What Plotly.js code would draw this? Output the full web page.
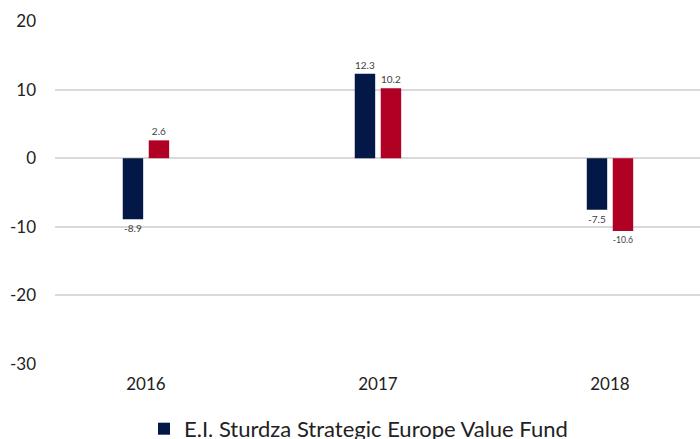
<!DOCTYPE html>
<html>
<head>
<meta charset="utf-8">
<script src="https://cdn.plot.ly/plotly-3.0.1.min.js"></script>
<style>html,body{margin:0;padding:0;background:#fff;}#chart{width:700px;height:439px;}</style>
</head>
<body>
<div id="chart"></div>
<script>
const years = ["2016", "2017", "2018"];
const fundName = "E.I. Sturdza Strategic Europe Value Fund";
const fundValues = [-8.9, 12.3, -7.5];
const benchName = "STOXX Europe 600 Net Return";
const benchValues = [2.6, 10.2, -10.6];
const yTicks = [-30, -20, -10, 0, 10, 20];
const yTickText = ["-30", "-20", "-10", "0", "10", "20"];

const labelFont = {family: "Lato, sans-serif", size: 10, color: "#404040"};
const traces = [
  {type: "bar", name: fundName, x: years, y: fundValues, marker: {color: "#031846"},
   width: 0.088, offset: -0.1, text: fundValues.map(v => v.toFixed(1)), textposition: "outside",
   textfont: labelFont, cliponaxis: false, hoverinfo: "x+y"},
  {type: "bar", name: benchName, x: years, y: benchValues, marker: {color: "#b00024"},
   width: 0.088, offset: 0.012, text: benchValues.map(v => v.toFixed(1)), textposition: "outside",
   textfont: labelFont, cliponaxis: false, hoverinfo: "x+y"}
];
const layout = {
  width: 700, height: 439,
  margin: {l: 55, r: 0, t: 21, b: 75, autoexpand: false},
  paper_bgcolor: "#fff", plot_bgcolor: "#fff",
  font: {family: "Lato, sans-serif", color: "#222"},
  barmode: "group",
  xaxis: {type: "category", range: [-0.392, 2.388], showgrid: false, zeroline: false, showline: false,
          ticks: "", tickfont: {size: 17, color: "#222"}, ticklabelstandoff: 8},
  yaxis: {range: [-30, 20], tickvals: yTicks, ticktext: yTickText, showgrid: true, gridcolor: "#d9d9d9", gridwidth: 2,
          zeroline: true, zerolinecolor: "#d9d9d9", zerolinewidth: 2, showline: false, ticks: "",
          tickfont: {size: 17, color: "#222"}, ticklabelstandoff: 18},
  showlegend: true,
  legend: {orientation: "h", x: (144 - 55) / 645, xanchor: "left", y: -0.128, yanchor: "top",
           entrywidthmode: "pixels", entrywidth: 600, itemwidth: 30,
           font: {size: 22, color: "#222"}, traceorder: "normal"}
};
Plotly.newPlot("chart", traces, layout, {displayModeBar: false, staticPlot: true});
</script>
</body>
</html>
